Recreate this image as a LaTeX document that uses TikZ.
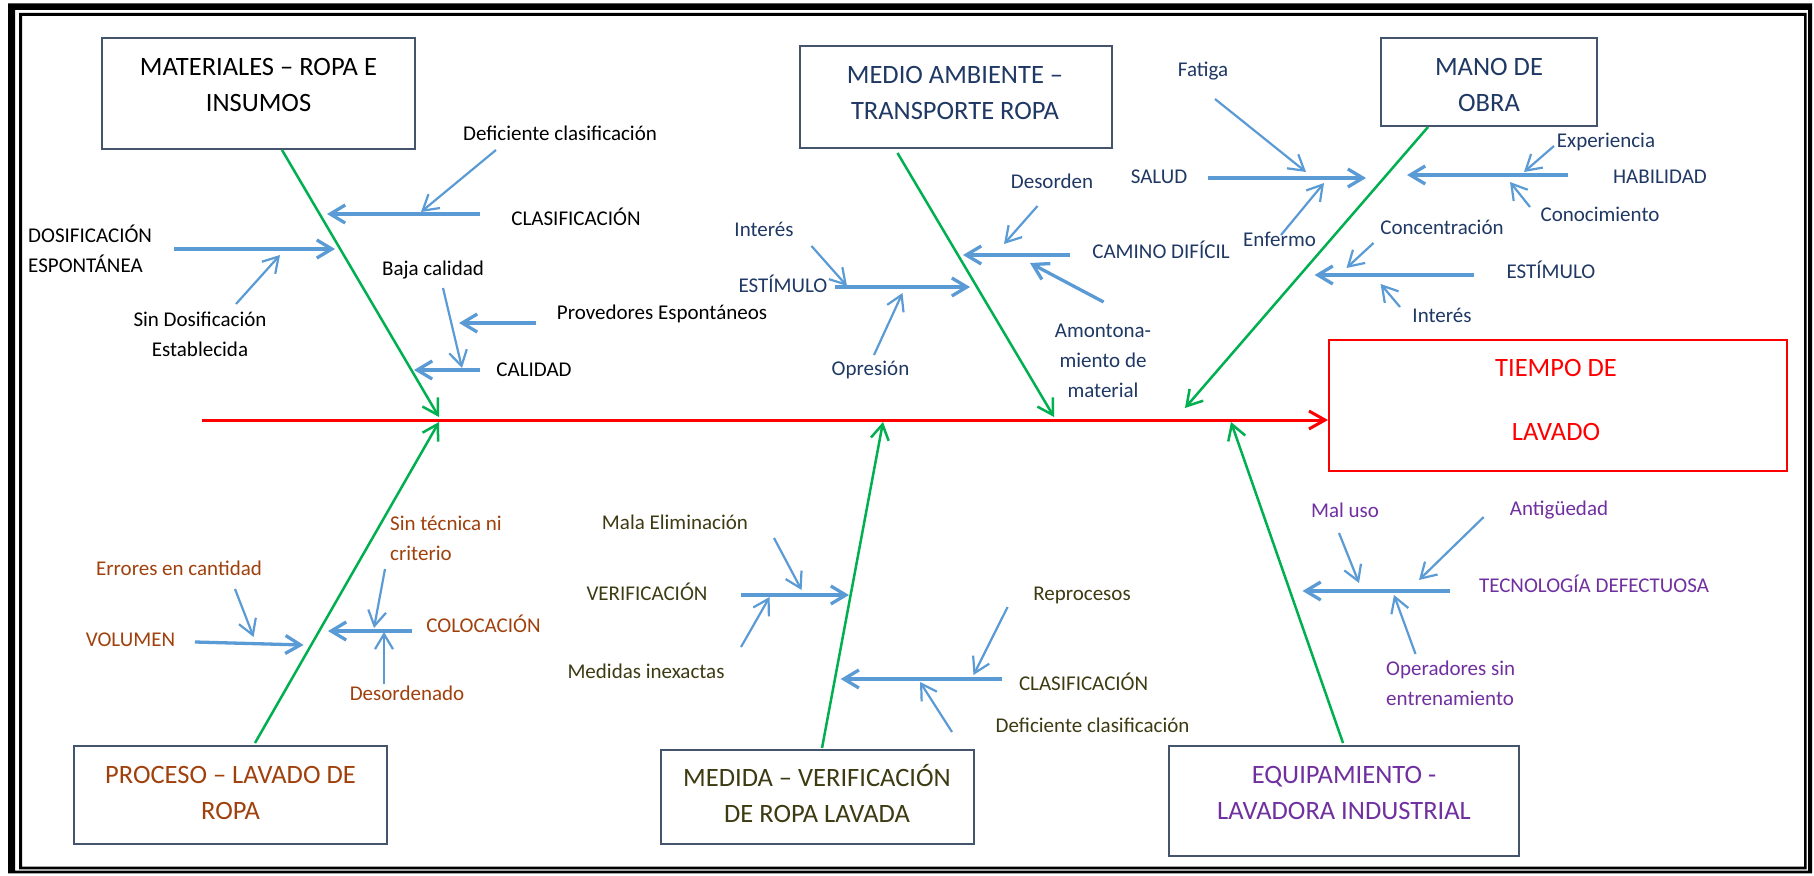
\documentclass[tikz,border=0pt]{standalone}
\usepackage{fontspec}
\setmainfont{Carlito}
\usetikzlibrary{arrows.meta}
\definecolor{bl}{HTML}{5B9BD5}
\definecolor{grn}{HTML}{00B050}
\definecolor{bxc}{HTML}{44546A}
\definecolor{dkb}{HTML}{1F3864}
\definecolor{brn}{HTML}{A0410D}
\definecolor{olv}{HTML}{3D3B12}
\definecolor{prp}{HTML}{7030A0}
\definecolor{rd}{HTML}{FF0000}
\begin{document}
\begin{tikzpicture}[x=1pt,y=-1pt,
  bar/.style={-{Straight Barb[length=15pt,width=18pt]}},
  thk/.style={draw=bl, line width=3.3pt, bar},
  thn/.style={draw=bl, line width=2.2pt, bar},
  spine/.style={draw=grn, line width=2.5pt, bar},
  box/.style={draw=bxc, line width=2pt, inner sep=0pt, rectangle},
  ttl/.style={anchor=north, yshift=16.7pt, inner sep=0pt, align=center, font=\fontsize{26.5}{36}\selectfont},
  lbl/.style={anchor=north, yshift=14.2pt, inner sep=0pt, align=center, font=\fontsize{21}{30}\selectfont},
  lbll/.style={lbl, anchor=north west, align=left},
]
% background and frame
\fill[white] (0,0) rectangle (1814,875);
\useasboundingbox (0,0) rectangle (1814,875);
\fill[black, even odd rule] (8,3.3) rectangle (1812,873.3) (15,10) rectangle (1808,870.7);
\fill[black, even odd rule] (19,13) rectangle (1806.7,869.3) (22,16) rectangle (1804,866.7);

% boxes
\node[box, minimum width=313pt, minimum height=111pt] (matBox) at (258.5,93.5) {};
\node[box, minimum width=312.5pt, minimum height=102pt] (medBox) at (955.75,97) {};
\node[box, minimum width=216pt, minimum height=88pt] (manBox) at (1489,82) {};
\node[box, minimum width=313pt, minimum height=98pt] (proBox) at (230.5,795) {};
\node[box, minimum width=312.5pt, minimum height=94pt] (mdaBox) at (817.25,797) {};
\node[box, minimum width=350pt, minimum height=110pt] (eqBox) at (1344,801) {};
\node[draw=rd, line width=2pt, inner sep=0pt, minimum width=458pt, minimum height=131pt] (tBox) at (1558,405.5) {};

% box titles
\node[ttl] (matT) at (258.5,67) {\strut MATERIALES – ROPA E\\\strut INSUMOS};
\node[ttl, text=dkb] (medT) at (955,75) {\strut MEDIO AMBIENTE –\\\strut TRANSPORTE ROPA};
\node[ttl, text=dkb] (manT) at (1489,67) {\strut MANO DE\\\strut OBRA};
\node[ttl, text=brn] (proT) at (230.5,775) {\strut PROCESO – LAVADO DE\\\strut ROPA};
\node[ttl, text=olv] (mdaT) at (817,778) {\strut MEDIDA – VERIFICACIÓN\\\strut DE ROPA LAVADA};
\node[ttl, text=prp] (eqT) at (1344,775) {\strut EQUIPAMIENTO -\\\strut LAVADORA INDUSTRIAL};
\node[ttl, text=rd, yshift=19.6pt, font=\fontsize{26.5}{64}\selectfont] (tT) at (1556,368) {\strut TIEMPO DE\\\strut LAVADO};

% main red line
\coordinate (tail) at (202,420);
\draw[draw=rd, line width=3pt, -{Straight Barb[length=16pt,width=18pt]}] (tail) -- (tail -| tBox.west);

% spines
\coordinate (sMat) at (282,150);  \coordinate (hMat) at (439,417);
\coordinate (sPro) at (255,743);  \coordinate (hPro) at (439,422);
\coordinate (sMed) at (897.5,153); \coordinate (hMed) at (1054,417);
\coordinate (sMan) at (1428,127); \coordinate (hMan) at (1185,408);
\coordinate (sMda) at (822,748);  \coordinate (hMda) at (883,422);
\coordinate (sEq) at (1343,743);  \coordinate (hEq) at (1231,422);
\draw[spine] (sMat) -- (hMat);
\draw[spine] (sPro) -- (hPro);
\draw[spine] (sMed) -- (hMed);
\draw[spine] (sMan) -- (hMan);
\draw[spine] (sMda) -- (hMda);
\draw[spine] (sEq) -- (hEq);

% MATERIALES branch
\draw[thk] (480,214) coordinate (m1s) -- (327,214) coordinate (m1e);
\draw[thn] (496,150) coordinate (m1as) -- (421,212) coordinate (m1ae);
\draw[thk] (174,249) coordinate (m2s) -- (335,249) coordinate (m2e);
\draw[thn] (236,304) coordinate (m2as) -- (280,255) coordinate (m2ae);
\draw[thk] (480,370) coordinate (m3s) -- (414,370) coordinate (m3e);
\draw[thn] (443,288) coordinate (m3as) -- (462,368) coordinate (m3ae);
\draw[thk] (536,323) coordinate (m3bs) -- (459,323) coordinate (m3be);
\node[lbl] (l1) at (576,218) {\strut CLASIFICACIÓN};
\node[lbl] (l2) at (560,133) {\strut Deficiente clasificación};
\node[lbll] (l3) at (28,235) {\strut DOSIFICACIÓN\\\strut ESPONTÁNEA};
\node[lbl] (l4) at (200,319) {\strut Sin Dosificación\\\strut Establecida};
\node[lbl] (l5) at (534,369) {\strut CALIDAD};
\node[lbl] (l6) at (433,268) {\strut Baja calidad};
\node[lbl] (l7) at (662,312) {\strut Provedores Espontáneos};

% MEDIO AMBIENTE branch
\draw[thk] (1069.5,255) coordinate (a1s) -- (963,255) coordinate (a1e);
\draw[thn] (1037.5,206) coordinate (a1as) -- (1004,244) coordinate (a1ae);
\draw[thk] (1103.6,302) coordinate (a1bs) -- (1030,263) coordinate (a1be);
\draw[thk] (835,287) coordinate (a2s) -- (970,287) coordinate (a2e);
\draw[thn] (811.5,246) coordinate (a2as) -- (847,286) coordinate (a2ae);
\draw[thn] (874,355) coordinate (a2bs) -- (902.5,293) coordinate (a2be);
\begin{scope}[text=dkb]
\node[lbl] (l8) at (1161,251) {\strut CAMINO DIFÍCIL};
\node[lbl] (l9) at (1052,181) {\strut Desorden};
\node[lbl] (l10) at (1103,330) {\strut Amontona-\\\strut miento de\\\strut material};
\node[lbl] (l11) at (783,285) {\strut ESTÍMULO};
\node[lbl] (l12) at (764,229) {\strut Interés};
\node[lbl] (l13) at (870.5,368) {\strut Opresión};
\end{scope}

% MANO DE OBRA branch
\draw[thk] (1208,178) coordinate (o1s) -- (1366,178) coordinate (o1e);
\draw[thn] (1215,99) coordinate (o1as) -- (1306,172) coordinate (o1ae);
\draw[thn] (1281,235) coordinate (o1bs) -- (1324,183) coordinate (o1be);
\draw[thk] (1568,175) coordinate (o2s) -- (1407,175) coordinate (o2e);
\draw[thn] (1554,146) coordinate (o2as) -- (1524,172) coordinate (o2ae);
\draw[thn] (1530,207) coordinate (o2bs) -- (1510,182) coordinate (o2be);
\draw[thk] (1474,275) coordinate (o3s) -- (1314.6,275) coordinate (o3e);
\draw[thn] (1373.5,243) coordinate (o3as) -- (1346.5,268) coordinate (o3ae);
\draw[thn] (1400,307) coordinate (o3bs) -- (1380.6,284) coordinate (o3be);
\begin{scope}[text=dkb]
\node[lbl] (l14) at (1159,176) {\strut SALUD};
\node[lbl] (l15) at (1203,70) {\strut Fatiga};
\node[lbl] (l16) at (1279.5,239) {\strut Enfermo};
\node[lbl] (l17) at (1660,176) {\strut HABILIDAD};
\node[lbl] (l18) at (1606,140) {\strut Experiencia};
\node[lbl] (l19) at (1600,214) {\strut Conocimiento};
\node[lbl] (l20) at (1551,271) {\strut ESTÍMULO};
\node[lbl] (l21) at (1442,227) {\strut Concentración};
\node[lbl] (l22) at (1442,315) {\strut Interés};
\end{scope}

% PROCESO branch
\draw[thk] (195,642) coordinate (p1s) -- (303.6,645) coordinate (p1e);
\draw[thn] (235,589) coordinate (p1as) -- (253.6,637) coordinate (p1ae);
\draw[thk] (412,631) coordinate (p2s) -- (328,631) coordinate (p2e);
\draw[thn] (385,569) coordinate (p2as) -- (374,628) coordinate (p2ae);
\draw[thn] (384,684) coordinate (p2bs) -- (384,632) coordinate (p2be);
\begin{scope}[text=brn]
\node[lbl] (l23) at (130.5,639) {\strut VOLUMEN};
\node[lbl] (l24) at (179,568) {\strut Errores en cantidad};
\node[lbl] (l25) at (483.5,625) {\strut COLOCACIÓN};
\node[lbll] (l26) at (390,523) {\strut Sin técnica ni\\\strut criterio};
\node[lbl] (l27) at (407,693) {\strut Desordenado};
\end{scope}

% MEDIDA branch
\draw[thk] (741,595) coordinate (d1s) -- (849,595) coordinate (d1e);
\draw[thn] (774,538) coordinate (d1as) -- (801.6,590) coordinate (d1ae);
\draw[thn] (741,647) coordinate (d1bs) -- (769.6,597) coordinate (d1be);
\draw[thk] (1002,679) coordinate (d2s) -- (840.7,679) coordinate (d2e);
\draw[thn] (1007.6,607) coordinate (d2as) -- (973.5,675) coordinate (d2ae);
\draw[thn] (952,732) coordinate (d2bs) -- (920,682) coordinate (d2be);
\begin{scope}[text=olv]
\node[lbl] (l28) at (647,593) {\strut VERIFICACIÓN};
\node[lbl] (l29) at (675,522) {\strut Mala Eliminación};
\node[lbl] (l30) at (646,671) {\strut Medidas inexactas};
\node[lbl] (l31) at (1083.6,683) {\strut CLASIFICACIÓN};
\node[lbl] (l32) at (1082,593) {\strut Reprocesos};
\node[lbl] (l33) at (1092.6,725) {\strut Deficiente clasificación};
\end{scope}

% EQUIPAMIENTO branch
\draw[thk] (1449.6,591) coordinate (e1s) -- (1302.5,591) coordinate (e1e);
\draw[thn] (1339,533) coordinate (e1as) -- (1359,583) coordinate (e1ae);
\draw[thn] (1483.7,517) coordinate (e1bs) -- (1419,580) coordinate (e1be);
\draw[thn] (1415.5,654) coordinate (e1cs) -- (1394,595) coordinate (e1ce);
\begin{scope}[text=prp]
\node[lbl] (l34) at (1594,585) {\strut TECNOLOGÍA DEFECTUOSA};
\node[lbl] (l35) at (1345,510) {\strut Mal uso};
\node[lbl] (l36) at (1559,508) {\strut Antigüedad};
\node[lbll] (l37) at (1386,668) {\strut Operadores sin\\\strut entrenamiento};
\end{scope}
\end{tikzpicture}
\end{document}
